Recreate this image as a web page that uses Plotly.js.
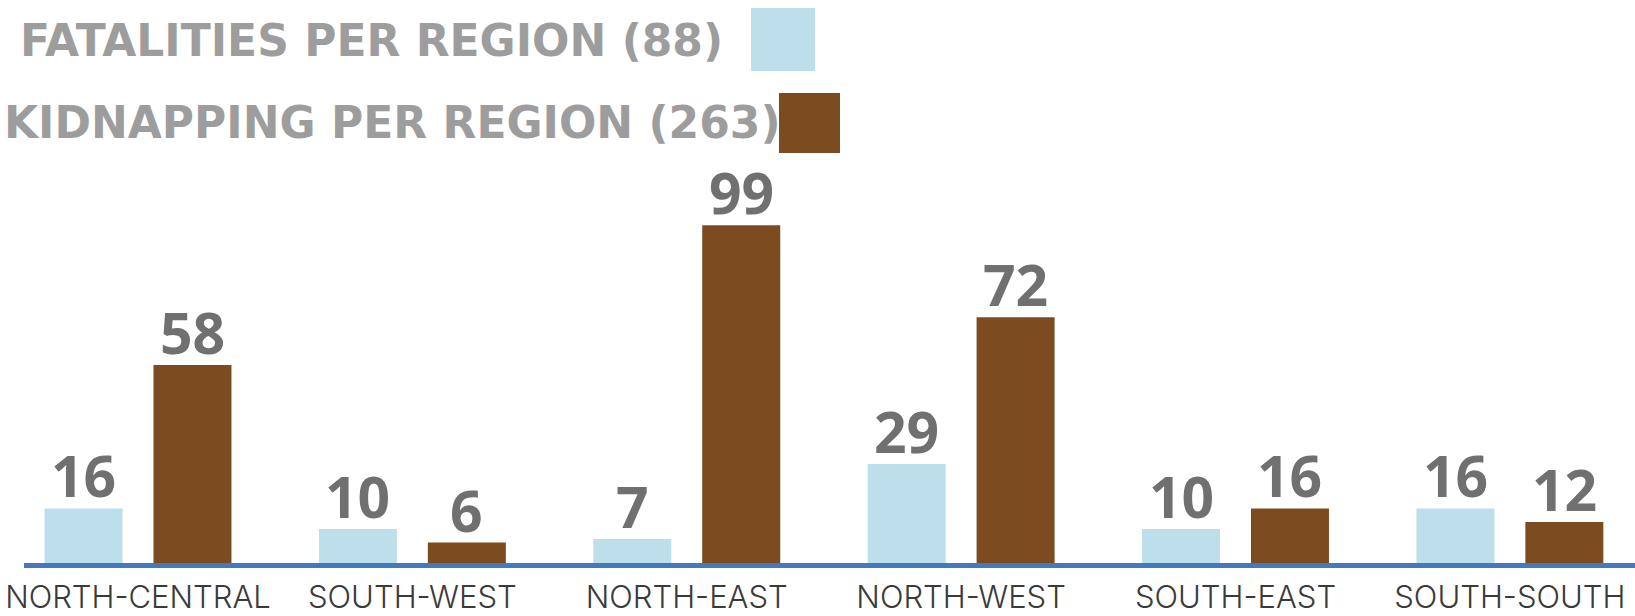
<!DOCTYPE html>
<html>
<head>
<meta charset="utf-8">
<script src="https://cdn.plot.ly/plotly-3.0.1.min.js"></script>
<style>
  html, body { margin: 0; padding: 0; background: #ffffff; }
  #chart { width: 1635px; height: 616px; }
</style>
</head>
<body>
<div id="chart"></div>
<script>
// ---- data ----
var regions = ["NORTH-CENTRAL", "SOUTH-WEST", "NORTH-EAST", "NORTH-WEST", "SOUTH-EAST", "SOUTH-SOUTH"];
var fatalities = [16, 10, 7, 29, 10, 16];
var kidnapping = [58, 6, 99, 72, 16, 12];
var seriesNames = ["FATALITIES PER REGION", "KIDNAPPING PER REGION"];

var sum = function (a) { return a.reduce(function (s, v) { return s + v; }, 0); };

// ---- geometry helpers (figure pixels -> paper) ----
var W = 1635, H = 616, ML = 24, MB = 53, MT = 0, MR = 0;
var PW = W - ML - MR, PH = H - MT - MB;
function px(x) { return (x - ML) / PW; }
function py(y) { return (H - MB - y) / PH; }

var BARGAP = 0.206, BARGROUPGAP = 0.284;
var groupOffset = (1 - BARGAP) / 4;   // centre of each bar within its group, in category units

var labelFont = { family: "Open Sans, sans-serif", size: 57, color: "#717071", weight: 700 };

var traces = [
  {
    type: "bar", x: regions, y: fatalities, name: seriesNames[0],
    marker: { color: "#bddfeb", line: { width: 0 } }, hoverinfo: "x+y"
  },
  {
    type: "bar", x: regions, y: kidnapping, name: seriesNames[1],
    marker: { color: "#7c4b1f", line: { width: 0 } }, hoverinfo: "x+y"
  }
];

// value labels tied to the bars through the data axes
var valueLabels = [];
[fatalities, kidnapping].forEach(function (series, s) {
  series.forEach(function (v, i) {
    valueLabels.push({
      xref: "x", yref: "y", x: i + (s === 0 ? -groupOffset : groupOffset), y: v,
      xanchor: "center", yanchor: "bottom", yshift: -8,
      showarrow: false, text: String(v), font: labelFont
    });
  });
});

var legendFont = { family: "DejaVu Sans, sans-serif", size: 44, color: "#9e9d9e", weight: 700 };

var layout = {
  width: W, height: H,
  margin: { l: ML, r: MR, t: MT, b: MB, pad: 0 },
  paper_bgcolor: "#ffffff", plot_bgcolor: "#ffffff",
  showlegend: false,
  barmode: "group", bargap: BARGAP, bargroupgap: BARGROUPGAP,
  xaxis: {
    type: "category",
    range: [-0.4155, 5.456],
    showgrid: false, zeroline: false,
    showline: true, linecolor: "#4479bf", linewidth: 5,
    ticks: "", ticklabelstandoff: 3,
    tickfont: { family: "Inter, sans-serif", size: 31, color: "#3a3a3a", weight: 300 }
  },
  yaxis: {
    range: [0, 165], showgrid: false, zeroline: false, showline: false,
    showticklabels: false, ticks: ""
  },
  shapes: [
    { type: "rect", xref: "paper", yref: "paper", x0: px(751), x1: px(815), y0: py(71), y1: py(8),
      fillcolor: "#bddfeb", line: { width: 0 } },
    { type: "rect", xref: "paper", yref: "paper", x0: px(779), x1: px(840), y0: py(153), y1: py(93),
      fillcolor: "#7c4b1f", line: { width: 0 } }
  ],
  annotations: [
    { xref: "paper", yref: "paper", x: px(18), y: py(41), xanchor: "left", yanchor: "middle",
      showarrow: false, text: seriesNames[0] + " (" + sum(fatalities) + ")", font: legendFont },
    { xref: "paper", yref: "paper", x: px(2), y: py(122), xanchor: "left", yanchor: "middle",
      showarrow: false, text: seriesNames[1] + " (" + sum(kidnapping) + ")", font: legendFont }
  ].concat(valueLabels)
};

Plotly.newPlot("chart", traces, layout, { displayModeBar: false, staticPlot: true });
</script>
</body>
</html>
